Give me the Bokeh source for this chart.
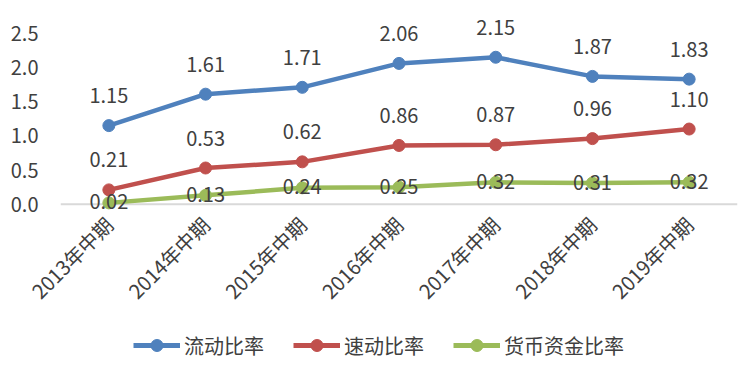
import math
from bokeh.plotting import figure
from bokeh.layouts import column
from bokeh.models import (ColumnDataSource, FactorRange, Range1d, FixedTicker,
                          NumeralTickFormatter, Span, Legend, LegendItem)
from bokeh.core.properties import value
from bokeh.embed import file_html
from bokeh.resources import INLINE

categories = ["2013年中期", "2014年中期", "2015年中期", "2016年中期",
              "2017年中期", "2018年中期", "2019年中期"]
current_ratio = [1.15, 1.61, 1.71, 2.06, 2.15, 1.87, 1.83]
quick_ratio = [0.21, 0.53, 0.62, 0.86, 0.87, 0.96, 1.10]
cash_ratio = [0.02, 0.13, 0.24, 0.25, 0.32, 0.31, 0.32]
series_names = ["流动比率", "速动比率", "货币资金比率"]
y_ticks = [0.0, 0.5, 1.0, 1.5, 2.0, 2.5]

colors = ["#4F81BD", "#C0504D", "#9BBB59"]
label_offsets = [-30, -30, -1]
FONT = "Noto Sans CJK SC"
TEXT_COLOR = "#404040"

p = figure(x_range=FactorRange(*categories), y_range=Range1d(-0.15, 2.79),
           width=754, height=318,
           output_backend="svg", toolbar_location=None,
           min_border_left=60, min_border_right=17, min_border_top=13,
           min_border_bottom=104)
p.outline_line_color = None
p.grid.visible = False
p.background_fill_color = "white"

baseline = Span(location=0, dimension="width", line_color="#D9D9D9",
                line_width=2, level="underlay")
p.add_layout(baseline)

series = [current_ratio, quick_ratio, cash_ratio]
for vals, col, off in zip(series, colors, label_offsets):
    src = ColumnDataSource(dict(x=categories, y=vals,
                                lab=[f"{v:.2f}" for v in vals]))
    p.line("x", "y", source=src, line_color=col, line_width=4.5)
    p.scatter("x", "y", source=src, size=12, fill_color=col, line_color=col)
    p.text("x", "y", text="lab", source=src, y_offset=off,
           text_align="center", text_baseline="middle",
           text_font=value(FONT), text_font_size="20px",
           text_color=TEXT_COLOR)

# y axis
p.yaxis.ticker = FixedTicker(ticks=y_ticks)
p.yaxis.formatter = NumeralTickFormatter(format="0.0")
p.yaxis.axis_line_color = None
p.yaxis.major_tick_line_color = None
p.yaxis.minor_tick_line_color = None
p.yaxis.major_tick_out = 0
p.yaxis.major_tick_in = 0
p.yaxis.major_label_standoff = 22
p.yaxis.major_label_text_font = FONT
p.yaxis.major_label_text_font_size = "20px"
p.yaxis.major_label_text_color = TEXT_COLOR

# x axis
p.xaxis.axis_line_color = None
p.xaxis.major_tick_line_color = None
p.xaxis.major_tick_out = 0
p.xaxis.major_tick_in = 0
p.xaxis.major_label_standoff = 6
p.xaxis.major_label_orientation = math.pi / 4
p.xaxis.major_label_text_font = FONT
p.xaxis.major_label_text_font_size = "20px"
p.xaxis.major_label_text_color = TEXT_COLOR

# legend strip (series drawn off-frame, used only as legend proxies)
lg = figure(width=754, height=55, x_range=FactorRange(*categories),
            y_range=Range1d(50, 51), x_axis_type=None, y_axis_type=None,
            output_backend="svg", toolbar_location=None, min_border=0)
lg.outline_line_color = None
lg.grid.visible = False
items = []
for name, col, vals in zip(series_names, colors, series):
    src = ColumnDataSource(dict(x=categories, y=vals))
    ln = lg.line("x", "y", source=src, line_color=col, line_width=5)
    sc = lg.scatter("x", "y", source=src, size=13, fill_color=col,
                    line_color=col)
    items.append(LegendItem(label=name, renderers=[ln, sc]))

legend = Legend(items=items, orientation="horizontal", location=(73, 13),
                glyph_width=47, glyph_height=30, label_height=24,
                label_standoff=4, spacing=29,
                label_text_font=FONT, label_text_font_size="20px",
                label_text_color=TEXT_COLOR, border_line_color=None,
                background_fill_alpha=0, margin=0, padding=0)
lg.add_layout(legend, "center")

layout = column(p, lg, spacing=0)
open("out.html", "w").write(file_html(layout, INLINE))
